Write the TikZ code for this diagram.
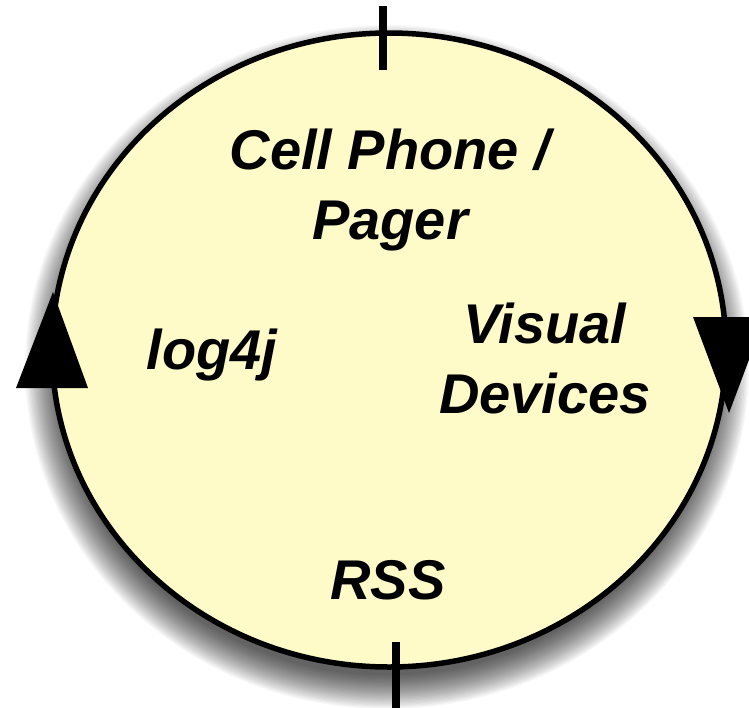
\documentclass[tikz,border=0pt]{standalone}
\usepackage{fontspec}
\setmainfont{Liberation Sans}
\usetikzlibrary{shapes.geometric}

\definecolor{ringfill}{HTML}{FEFBC9}

\tikzset{
  ring/.style={ellipse, draw=black, line width=5.5pt, fill=ringfill,
    minimum width=674pt, minimum height=634pt, inner sep=0pt},
  shadowlayer/.style={fill=black, fill opacity=0.032, draw=none},
  label/.style={font=\fontsize{56}{70}\selectfont\bfseries\itshape,
    align=center, inner sep=0pt, text=black},
  tick/.style={line width=8.5pt, black},
  flowhead/.style={fill=black, draw=none}
}

\begin{document}
\begin{tikzpicture}[x=1pt, y=-1pt]
  \useasboundingbox[fill=white] (0,0) rectangle (749,707);

  % soft drop shadow under the ring, built from stacked translucent ellipses
  \coordinate (shadowc) at (387,367);
  \foreach \k in {0,...,26}{
    \pgfmathsetmacro{\grow}{25-1.3*\k}
    \fill[shadowlayer] (shadowc) ellipse [x radius={(337+\grow)*1pt}, y radius={(317+\grow)*1pt}];
  }

  % the cycle ring
  \node[ring] (cycle) at (389,350) {};

  % stage markers at top and bottom
  \coordinate (topA) at (383,6);
  \coordinate (topB) at (383,70);
  \coordinate (botA) at (396,642);
  \coordinate (botB) at (396,712);
  \draw[tick] (topA) -- (topB);
  \draw[tick] (botA) -- (botB);

  % direction arrowheads on the ring
  \coordinate (leftTip) at (53,292);
  \fill[flowhead] (leftTip) -- ++(-37,96) -- ++(72,0) -- cycle;
  \coordinate (rightTip) at (729,413);
  \fill[flowhead] (rightTip) -- ++(-36,-96) -- ++(72,0) -- cycle;

  % channel labels
  \node[label] (cell) at (390,190) {Cell Phone /\\Pager};
  \node[label] (log) at (212,355) {log4j};
  \node[label] (visual) at (545,358) {Visual\\Devices};
  \node[label] (rss) at (388,580) {RSS};
\end{tikzpicture}
\end{document}
